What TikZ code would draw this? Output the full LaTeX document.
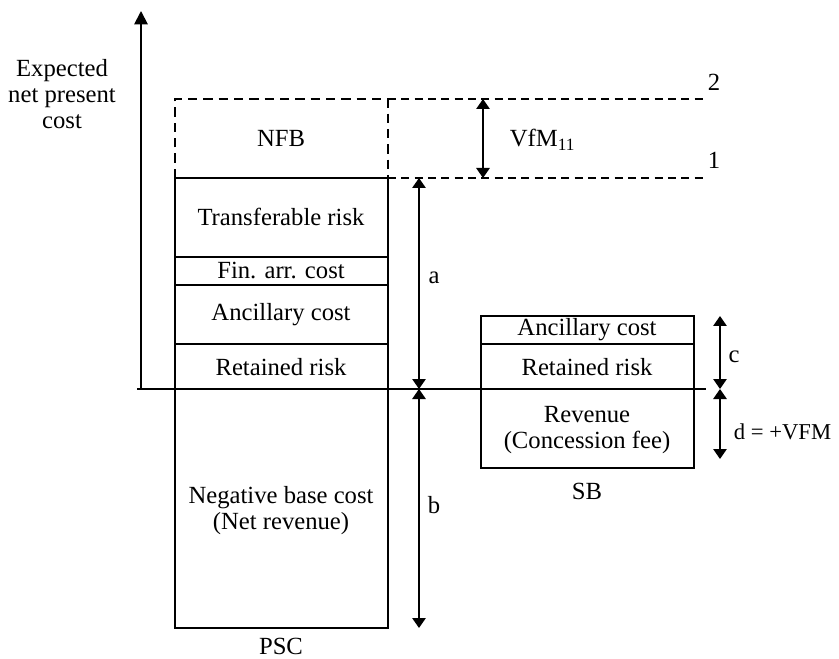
\documentclass[tikz,border=0pt]{standalone}
\usepackage{fontspec}
\setmainfont{Liberation Serif}
\usetikzlibrary{arrows.meta}
\begin{document}
\begin{tikzpicture}[x=0.75pt,y=-0.75pt, line width=1.2pt,
  lbl/.style={font=\fontsize{18.5}{19.5}\selectfont, inner sep=0pt, align=center},
  dimarr/.style={{Triangle[width=10pt,length=7.5pt]}-{Triangle[width=10pt,length=7.5pt]}, line width=1.4pt},
  dsh/.style={dash pattern=on 6pt off 4pt},
  dshbox/.style={dash pattern=on 7pt off 4.5pt}]
\useasboundingbox (0,0) rectangle (839,659);

% axes
\coordinate (o) at (141,389);
\coordinate (ytop) at (141,11);
\coordinate (xl) at (137,389);
\coordinate (xr) at (706,389);
\draw[-{Triangle[width=10pt,length=10pt]}, line width=1.4pt] (o) -- (ytop);
\draw (xl) -- (xr);
\node[lbl] (ylab) at (62,94) {Expected\\net present\\cost};

% PSC column
\draw[dshbox] (175,178) -- (175,99) -- (388,99) -- (388,178);
\draw (175,178) rectangle (388,628);
\draw (175,257) -- (388,257);
\draw (175,285) -- (388,285);
\draw (175,344) -- (388,344);
\node[lbl] (nfb) at (281,138) {NFB};
\node[lbl] (tr) at (281,217) {Transferable risk};
\node[lbl] (fin) at (281,271) {Fin. arr. cost};
\node[lbl] (anc) at (281,315) {Ancillary cost};
\node[lbl] (ret) at (281,367) {Retained risk};
\node[lbl] (neg) at (281,511) {Negative base cost\\(Net revenue)};
\node[lbl] (psc) at (281,646) {PSC};

% dashed reference lines
\draw[dsh] (388,99) -- (707,99);
\draw[dsh] (388,178) -- (707,178);
\node[lbl] (l2) at (714,82) {2};
\node[lbl] (l1) at (714,160) {1};

% VfM arrow
\coordinate (v1) at (483,99);
\coordinate (v2) at (483,178);
\draw[dimarr] (v1) -- (v2);
\node[lbl, anchor=west] (vfm) at (509,140) {VfM\textsubscript{11}};

% a and b arrows
\coordinate (a1) at (419,178);
\coordinate (a2) at (419,389);
\coordinate (b2) at (419,628);
\draw[dimarr] (a1) -- (a2);
\draw[dimarr] (a2) -- (b2);
\node[lbl] (la) at (434,278) {a};
\node[lbl] (lb) at (434,505) {b};

% SB column
\draw (481,316) rectangle (694,468);
\draw (481,344) -- (694,344);
\node[lbl] (sanc) at (587,330) {Ancillary cost};
\node[lbl] (sret) at (587,367) {Retained risk};
\node[lbl] (rev) at (587,430) {Revenue\\(Concession fee)};
\node[lbl] (sb) at (587,491) {SB};

% c and d arrows
\coordinate (c1) at (720,316);
\coordinate (c2) at (720,389);
\coordinate (d2) at (720,459);
\draw[dimarr] (c1) -- (c2);
\draw[dimarr] (c2) -- (d2);
\node[lbl] (lc) at (734,357) {c};
\node[lbl, anchor=west, font=\fontsize{17}{19}\selectfont] (ld) at (733,432) {d = +VFM};
\end{tikzpicture}
\end{document}
